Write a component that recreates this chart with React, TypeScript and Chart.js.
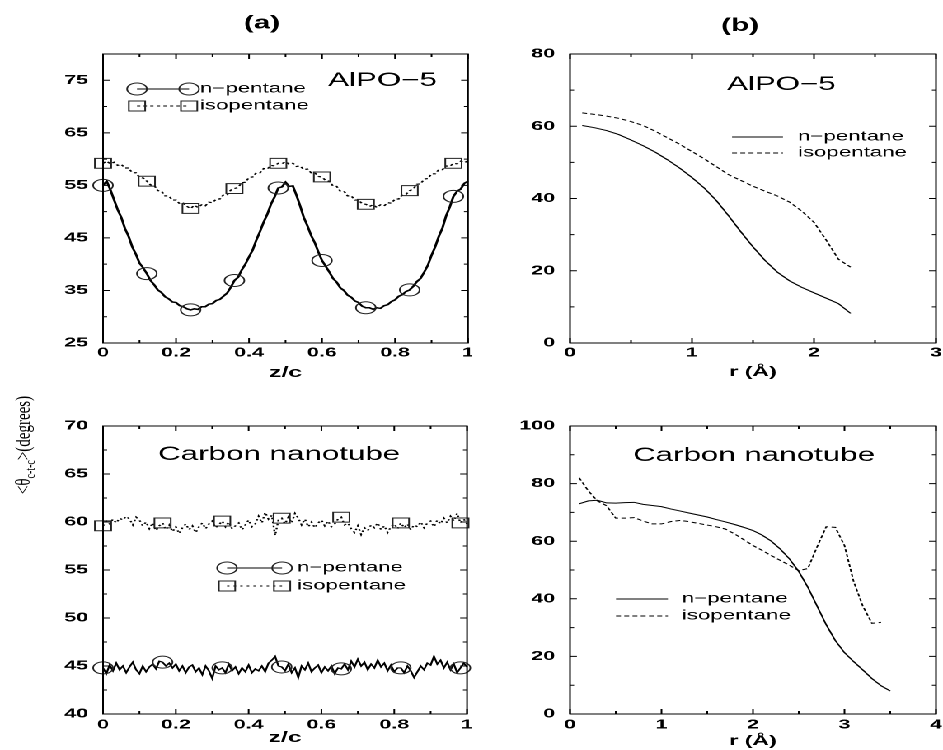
import React, { useEffect, useRef } from 'react';
import { Chart, registerables } from 'chart.js';

Chart.register(...registerables);

// The reference figure is horizontally stretched; we draw in an unstretched
// frame 572px wide and stretch it to 943px.
const S = 943 / 572;
const SANS = '"Liberation Sans", Arial, Helvetica, sans-serif';
const SERIF = '"Liberation Serif", "Times New Roman", serif';
const INK = '#000';

// ---------------- data ----------------
// (a) AlPO-5, angle vs z/c (sample grid 0..1 step 0.01)
const zA = Array.from({ length: 101 }, (_, i) => i / 100);
const aNpentane = [
  55.0, 55.8, 54.2, 52.3, 50.4, 48.9, 46.8, 45.3, 43.3, 41.9,
  40.2, 39.3, 38.2, 36.9, 36.1, 35.1, 34.6, 33.8, 33.4, 32.8,
  32.7, 32.1, 31.9, 31.5, 31.3, 31.5, 31.4, 31.9, 31.9, 32.4,
  32.5, 33.1, 33.3, 33.9, 34.5, 35.6, 36.9, 37.5, 38.9, 40.0,
  41.4, 42.7, 44.6, 46.2, 48.0, 49.5, 51.4, 52.8, 54.5, 54.7,
  55.6, 54.8, 54.9, 53.1, 51.1, 48.9, 47.3, 45.5, 44.1, 42.3,
  40.7, 39.6, 38.5, 37.3, 36.6, 35.5, 35.0, 34.1, 33.7, 33.0,
  32.7, 32.0, 31.7, 31.7, 31.4, 31.7, 31.6, 32.1, 32.3, 32.9,
  33.2, 33.9, 34.2, 34.8, 35.1, 35.8, 36.7, 37.3, 38.5, 39.8,
  41.7, 43.3, 45.3, 46.9, 49.2, 50.9, 52.9, 53.9, 54.3, 55.4,
  55.8,
];
const aIsopentane = [
  59.2, 59.6, 59.1, 59.4, 58.8, 59.0, 58.3, 58.3, 57.4, 57.4,
  56.5, 56.4, 55.8, 55.1, 55.0, 54.0, 53.9, 53.0, 53.0, 52.2,
  52.2, 51.5, 51.6, 51.0, 50.6, 51.2, 50.8, 51.3, 51.1, 51.8,
  51.7, 52.4, 52.4, 53.2, 53.2, 54.1, 54.4, 54.6, 55.5, 55.6,
  56.5, 56.6, 57.4, 57.4, 58.2, 58.1, 58.8, 58.7, 59.2, 59.1,
  59.5, 59.0, 59.2, 58.6, 58.7, 58.0, 58.1, 57.4, 57.4, 56.7,
  56.6, 55.9, 55.8, 54.9, 54.8, 53.9, 53.9, 53.0, 53.0, 52.2,
  52.2, 51.5, 51.4, 51.0, 51.3, 50.8, 51.3, 51.1, 51.7, 51.6,
  52.4, 52.4, 53.2, 53.3, 54.0, 54.3, 55.2, 55.3, 56.2, 56.3,
  57.2, 57.2, 58.0, 58.0, 58.7, 58.6, 59.2, 59.1, 59.6, 59.3,
  59.7,
];

// (b) AlPO-5, angle vs r
const rB = [0.1, 0.2, 0.3, 0.4, 0.5, 0.6, 0.7, 0.8, 0.9, 1.0, 1.1, 1.2, 1.3, 1.4, 1.5, 1.6, 1.7, 1.8, 1.9, 2.0, 2.1, 2.2, 2.3];
const bNpentane = [60.2, 59.6, 58.8, 57.7, 56.2, 54.6, 52.8, 50.7, 48.4, 45.8, 42.9, 39.4, 35.2, 30.8, 26.6, 22.8, 19.6, 17.2, 15.4, 13.9, 12.4, 10.9, 8.2];
const bIsopentane = [63.7, 63.3, 62.8, 62.2, 61.3, 60.2, 58.6, 56.8, 55.0, 53.0, 51.0, 48.8, 46.6, 45.0, 43.4, 42.0, 40.7, 39.0, 36.5, 33.4, 28.5, 23.2, 21.0];

// (c) Carbon nanotube, angle vs z/c (sample grid 0..1, 111 samples)
const zC = Array.from({ length: 111 }, (_, i) => i / 110);
const cNpentane = [
  44.8, 44.2, 45.1, 44.5, 45.3, 44.6, 45.0, 44.3, 44.9, 45.4,
  44.6, 44.2, 45.0, 44.4, 44.9, 45.2, 44.7, 45.5, 45.4, 45.0,
  45.3, 44.8, 45.2, 44.5, 45.0, 44.3, 44.9, 45.1, 44.4, 44.8,
  44.1, 45.0, 44.5, 43.7, 45.0, 44.6, 44.8, 44.3, 45.2, 44.5,
  44.9, 44.2, 44.8, 44.4, 45.1, 44.3, 44.7, 44.5, 45.0, 44.4,
  45.3, 45.6, 46.0, 45.0, 44.9, 44.5, 45.2, 44.3, 44.8, 43.8,
  45.0, 44.6, 45.3, 44.4, 44.8, 45.1, 44.3, 44.9, 44.5, 45.0,
  44.2, 44.8, 44.7, 45.2, 44.6, 45.5, 44.9, 45.7, 45.0, 45.4,
  44.6, 45.2, 44.8, 45.6, 44.9, 45.3, 44.5, 45.1, 44.4, 44.8,
  44.8, 44.3, 45.0, 44.5, 43.8, 44.4, 45.0, 44.6, 45.3, 45.1,
  46.0, 45.2, 45.6, 44.8, 45.4, 44.6, 45.2, 44.3, 44.8, 45.3,
  44.9,
];
const cIsopentane = [
  59.6, 60.1, 59.8, 60.3, 59.9, 60.4, 60.2, 60.6, 60.3, 59.7,
  60.5, 60.2, 59.6, 60.0, 59.3, 59.9, 59.1, 59.6, 59.9, 59.2,
  59.7, 59.0, 59.5, 58.8, 59.4, 59.8, 59.2, 59.6, 58.9, 59.5,
  59.9, 59.3, 59.8, 60.1, 59.4, 59.7, 60.1, 59.5, 60.0, 59.3,
  59.6, 59.9, 59.2, 59.7, 60.2, 59.5, 59.8, 60.6, 59.9, 61.0,
  60.3, 60.7, 58.6, 60.2, 60.4, 59.8, 60.5, 59.9, 60.9, 60.4,
  59.7, 60.3, 59.5, 60.0, 59.4, 59.9, 60.2, 59.6, 60.1, 59.5,
  59.8, 60.3, 60.5, 59.7, 59.9, 59.3, 58.9, 59.6, 58.7, 59.4,
  59.1, 59.7, 59.4, 59.9, 59.2, 59.6, 58.9, 59.5, 59.8, 59.3,
  59.9, 59.4, 59.8, 59.2, 59.7, 59.5, 60.0, 59.4, 59.9, 60.1,
  59.5, 60.2, 59.8, 60.4, 59.9, 60.6, 60.1, 60.9, 59.9, 60.3,
  59.8,
];

// (d) Carbon nanotube, angle vs r
const rDn = [0.1, 0.2, 0.3, 0.4, 0.5, 0.6, 0.7, 0.8, 0.9, 1.0, 1.1, 1.2, 1.3, 1.4, 1.5, 1.6, 1.7, 1.8, 1.9, 2.0, 2.1, 2.2, 2.3, 2.4, 2.5, 2.6, 2.7, 2.8, 2.9, 3.0, 3.1, 3.2, 3.3, 3.4, 3.5];
const dNpentane = [73.0, 74.0, 74.2, 73.3, 73.2, 73.4, 73.5, 72.8, 72.4, 72.0, 71.2, 70.5, 69.8, 69.1, 68.4, 67.5, 66.7, 65.8, 64.8, 63.7, 62.1, 60.0, 57.2, 53.8, 49.5, 44.0, 37.5, 31.0, 25.5, 21.3, 18.2, 15.3, 12.3, 9.8, 8.0];
const rDi = [0.1, 0.2, 0.3, 0.4, 0.5, 0.6, 0.7, 0.8, 0.9, 1.0, 1.1, 1.2, 1.3, 1.4, 1.5, 1.6, 1.7, 1.8, 1.9, 2.0, 2.1, 2.2, 2.3, 2.4, 2.5, 2.6, 2.7, 2.8, 2.9, 3.0, 3.1, 3.2, 3.3, 3.4];
const dIsopentane = [82.0, 77.5, 74.0, 72.3, 68.0, 68.0, 68.2, 67.0, 66.0, 66.0, 66.8, 67.2, 66.8, 66.2, 65.6, 65.0, 64.2, 62.5, 60.5, 58.5, 56.8, 55.0, 53.3, 51.6, 49.8, 50.5, 58.0, 65.0, 64.8, 58.5, 46.0, 37.5, 31.5, 31.8];

// tick labels (major ticks)
const aXTicks = [0, 0.2, 0.4, 0.6, 0.8, 1];
const aYTicks = [25, 35, 45, 55, 65, 75];
const bXTicks = [0, 1, 2, 3];
const bYTicks = [0, 20, 40, 60, 80];
const cXTicks = [0, 0.2, 0.4, 0.6, 0.8, 1];
const cYTicks = [40, 45, 50, 55, 60, 65, 70];
const dXTicks = [0, 1, 2, 3, 4];
const dYTicks = [0, 20, 40, 60, 80, 100];

const seriesNames = ['n\u2212pentane', 'isopentane'];

// ---------------- panel specs ----------------
type Series = { x: number[]; y: number[]; width: number; dash: number[]; marker?: 'circle' | 'rect'; every?: number; radius?: number };
type Panel = {
  left: number; top: number; w: number; h: number;
  padTop: number; padRight: number; yW: number; xH: number;
  xMin: number; xMax: number; xStep: number; xTicks: number[];
  yMin: number; yMax: number; yStep: number; yTicks: number[];
  xTitle: string; xTitleSize: number; xTitlePad: number; xTickPad: number;
  series: Series[];
  heading?: { text: string; x: number; y: number };
  name: { text: string; dx: number; dy: number };
  legend: { x1: number; x2: number; tx: number; rows: number[]; markers: boolean };
  yLabel?: { x: number; y: number };
};

const PANELS: Panel[] = [
  {
    left: 0, top: 0, w: 286, h: 390, padTop: 54, padRight: 2.1, yW: 62.5, xH: 47,
    xMin: 0, xMax: 1, xStep: 0.1, xTicks: aXTicks, yMin: 25, yMax: 80, yStep: 5, yTicks: aYTicks,
    xTitle: 'z/c', xTitleSize: 15, xTitlePad: 8, xTickPad: 2,
    series: [
      { x: zA, y: aNpentane, width: 1.5, dash: [], marker: 'circle', every: 12, radius: 6 },
      { x: zA, y: aIsopentane, width: 1.2, dash: [2, 2], marker: 'rect', every: 12, radius: 7 },
    ],
    heading: { text: '(a)', x: 158.9, y: 23.5 },
    name: { text: 'AlPO\u22125', dx: 136.5, dy: 27 },
    legend: { x1: 20.6, x2: 52.2, tx: 58.8, rows: [35, 52], markers: true },
  },
  {
    left: 286, top: 0, w: 286, h: 390, padTop: 54, padRight: 4.25, yW: 59.75, xH: 47,
    xMin: 0, xMax: 3, xStep: 0.5, xTicks: bXTicks, yMin: 0, yMax: 80, yStep: 10, yTicks: bYTicks,
    xTitle: 'r (\u00C5)', xTitleSize: 14, xTitlePad: 9.6, xTickPad: 2,
    series: [
      { x: rB, y: bNpentane, width: 1, dash: [] },
      { x: rB, y: bIsopentane, width: 1, dash: [3, 2] },
    ],
    heading: { text: '(b)', x: 162.9, y: 26 },
    name: { text: 'AlPO\u22125', dx: 95.2, dy: 31 },
    legend: { x1: 98.3, x2: 129.2, tx: 138.3, rows: [83, 99], markers: false },
  },
  {
    left: 0, top: 375, w: 286, h: 375, padTop: 51, padRight: 2.7, yW: 62.5, xH: 36,
    xMin: 0, xMax: 1, xStep: 0.1, xTicks: cXTicks, yMin: 40, yMax: 70, yStep: 2.5, yTicks: cYTicks,
    xTitle: 'z/c', xTitleSize: 15, xTitlePad: 3, xTickPad: 3,
    series: [
      { x: zC, y: cNpentane, width: 1.2, dash: [], marker: 'circle', every: 18, radius: 6 },
      { x: zC, y: cIsopentane, width: 1.2, dash: [1.5, 2.5], marker: 'rect', every: 18, radius: 7 },
    ],
    name: { text: 'Carbon nanotube', dx: 33.4, dy: 29 },
    legend: { x1: 75.2, x2: 108.6, tx: 117.7, rows: [142, 160], markers: true },
    yLabel: { x: 14.6, y: 70 },
  },
  {
    left: 286, top: 375, w: 286, h: 375, padTop: 51, padRight: 4.25, yW: 59.75, xH: 36,
    xMin: 0, xMax: 4, xStep: 0.5, xTicks: dXTicks, yMin: 0, yMax: 100, yStep: 10, yTicks: dYTicks,
    xTitle: 'r (\u00C5)', xTitleSize: 14, xTitlePad: 0.6, xTickPad: 3,
    series: [
      { x: rDn, y: dNpentane, width: 1, dash: [] },
      { x: rDi, y: dIsopentane, width: 1, dash: [3, 2] },
    ],
    name: { text: 'Carbon nanotube', dx: 38.2, dy: 30 },
    legend: { x1: 27.9, x2: 59.4, tx: 67.9, rows: [173, 190], markers: false },
  },
];

// ---------------- helpers ----------------
const isMajor = (ticks: number[], v: number) => ticks.some((m) => Math.abs(m - v) < 1e-6);
const fmt = (v: number) => String(Math.round(v * 1000) / 1000);

function drawMarker(ctx: CanvasRenderingContext2D, kind: 'circle' | 'rect', x: number, y: number, r: number) {
  ctx.beginPath();
  if (kind === 'circle') {
    ctx.arc(x, y, r, 0, Math.PI * 2);
  } else {
    const h = r * Math.SQRT1_2;
    ctx.rect(x - h, y - h, 2 * h, 2 * h);
  }
  ctx.stroke();
}

function decor(p: Panel) {
  return {
    id: 'decor',
    afterDraw(chart: any) {
      const { ctx, chartArea: ca, scales } = chart;
      ctx.save();
      ctx.strokeStyle = INK;
      ctx.fillStyle = INK;
      ctx.lineWidth = 1;
      ctx.setLineDash([]);
      // frame
      ctx.strokeRect(ca.left, ca.top, ca.right - ca.left, ca.bottom - ca.top);
      // inward ticks on all four sides
      ctx.beginPath();
      for (const t of scales.x.ticks) {
        const px = scales.x.getPixelForValue(t.value);
        const len = isMajor(p.xTicks, t.value) ? 5 : 3;
        ctx.moveTo(px, ca.bottom); ctx.lineTo(px, ca.bottom - len);
        ctx.moveTo(px, ca.top); ctx.lineTo(px, ca.top + len);
      }
      for (const t of scales.y.ticks) {
        const py = scales.y.getPixelForValue(t.value);
        const len = isMajor(p.yTicks, t.value) ? 4.2 : 2.5;
        ctx.moveTo(ca.left, py); ctx.lineTo(ca.left + len, py);
        ctx.moveTo(ca.right, py); ctx.lineTo(ca.right - len, py);
      }
      ctx.stroke();

      ctx.textBaseline = 'middle';
      // heading
      if (p.heading) {
        ctx.font = `bold 18px ${SANS}`;
        ctx.textAlign = 'center';
        ctx.fillText(p.heading.text, p.heading.x, p.heading.y);
      }
      // system name
      ctx.font = `19px ${SANS}`;
      ctx.textAlign = 'left';
      ctx.fillText(p.name.text, ca.left + p.name.dx, ca.top + p.name.dy);

      // legend
      const lg = p.legend;
      p.series.forEach((s, i) => {
        const y = ca.top + lg.rows[i];
        const x1 = ca.left + lg.x1;
        const x2 = ca.left + lg.x2;
        ctx.lineWidth = 1;
        ctx.setLineDash(s.dash);
        ctx.beginPath();
        ctx.moveTo(x1, y); ctx.lineTo(x2, y);
        ctx.stroke();
        ctx.setLineDash([]);
        if (lg.markers && s.marker) {
          ctx.strokeStyle = '#222';
          drawMarker(ctx, s.marker, x1, y, s.radius || 6);
          drawMarker(ctx, s.marker, x2, y, s.radius || 6);
          ctx.strokeStyle = INK;
        }
        ctx.font = `13.5px ${SANS}`;
        ctx.textAlign = 'left';
        ctx.fillText(seriesNames[i], ca.left + lg.tx, y);
      });

      // shared y-axis label
      if (p.yLabel) {
        ctx.save();
        ctx.translate(p.yLabel.x, p.yLabel.y);
        ctx.scale(0.85, 1);
        ctx.rotate(-Math.PI / 2);
        const parts = [
          { t: '<\u03B8', f: `15px ${SERIF}`, dy: 0 },
          { t: 'c-t-c', f: `10px ${SERIF}`, dy: 5 },
          { t: '>(degrees)', f: `15px ${SERIF}`, dy: 0 },
        ];
        let total = 0;
        const widths = parts.map((q) => { ctx.font = q.f; const w = ctx.measureText(q.t).width; total += w; return w; });
        let x = -total / 2;
        ctx.textAlign = 'left';
        parts.forEach((q, i) => {
          ctx.font = q.f;
          ctx.fillText(q.t, x, q.dy);
          x += widths[i];
        });
        ctx.restore();
      }
      ctx.restore();
    },
  };
}

function buildConfig(p: Panel): any {
  const tickFont = { family: SANS, size: 13, weight: 'bold' };
  return {
    type: 'line',
    data: {
      datasets: p.series.map((s) => ({
        data: s.x.map((x, i) => ({ x, y: s.y[i] })),
        borderColor: INK,
        borderWidth: s.width,
        borderDash: s.dash,
        tension: 0,
        fill: false,
        clip: false,
        pointStyle: s.marker || 'circle',
        pointRadius: s.marker ? (c: any) => (c.dataIndex % (s.every || 1) === 0 ? s.radius : 0) : 0,
        pointHoverRadius: 0,
        pointBorderColor: '#222',
        pointBackgroundColor: 'rgba(0,0,0,0)',
        pointBorderWidth: 1,
      })),
    },
    options: {
      responsive: false,
      animation: false,
      devicePixelRatio: 2,
      events: [],
      layout: { autoPadding: false, padding: { left: 0, top: p.padTop, right: p.padRight, bottom: 0 } },
      plugins: { legend: { display: false }, tooltip: { enabled: false } },
      scales: {
        x: {
          type: 'linear', min: p.xMin, max: p.xMax,
          ticks: {
            stepSize: p.xStep, autoSkip: false, maxRotation: 0, minRotation: 0,
            padding: p.xTickPad, font: tickFont, color: INK,
            callback: (v: number) => (isMajor(p.xTicks, v) ? fmt(v) : ''),
          },
          grid: { display: false, drawTicks: false },
          border: { display: false },
          title: {
            display: true, text: p.xTitle, color: INK,
            font: { family: SANS, size: p.xTitleSize, weight: 'bold' },
            padding: { top: 0, bottom: p.xTitlePad },
          },
          afterFit: (sc: any) => { sc.height = p.xH; sc.paddingLeft = 0; sc.paddingRight = 0; },
        },
        y: {
          type: 'linear', min: p.yMin, max: p.yMax,
          ticks: {
            stepSize: p.yStep, autoSkip: false, padding: 9, font: tickFont, color: INK,
            callback: (v: number) => (isMajor(p.yTicks, v) ? fmt(v) : ''),
          },
          grid: { display: false, drawTicks: false },
          border: { display: false },
          afterFit: (sc: any) => { sc.width = p.yW; sc.paddingTop = 0; sc.paddingBottom = 0; },
        },
      },
    },
    plugins: [decor(p)],
  };
}

export default function App() {
  const r0 = useRef<HTMLCanvasElement>(null);
  const r1 = useRef<HTMLCanvasElement>(null);
  const r2 = useRef<HTMLCanvasElement>(null);
  const r3 = useRef<HTMLCanvasElement>(null);
  const refs = [r0, r1, r2, r3];

  useEffect(() => {
    document.body.style.margin = '0';
    const charts = PANELS.map((p, i) => new Chart(refs[i].current as HTMLCanvasElement, buildConfig(p)));
    return () => charts.forEach((c) => c.destroy());
  }, []);

  return (
    <div style={{ position: 'relative', width: 943, height: 750, overflow: 'hidden', background: '#fff' }}>
      <div style={{ position: 'absolute', left: 0, top: 0, width: 572, height: 750, transform: `scaleX(${S})`, transformOrigin: '0 0' }}>
        {PANELS.map((p, i) => (
          <canvas key={i} ref={refs[i]} width={p.w} height={p.h} style={{ position: 'absolute', left: p.left, top: p.top }} />
        ))}
      </div>
    </div>
  );
}
